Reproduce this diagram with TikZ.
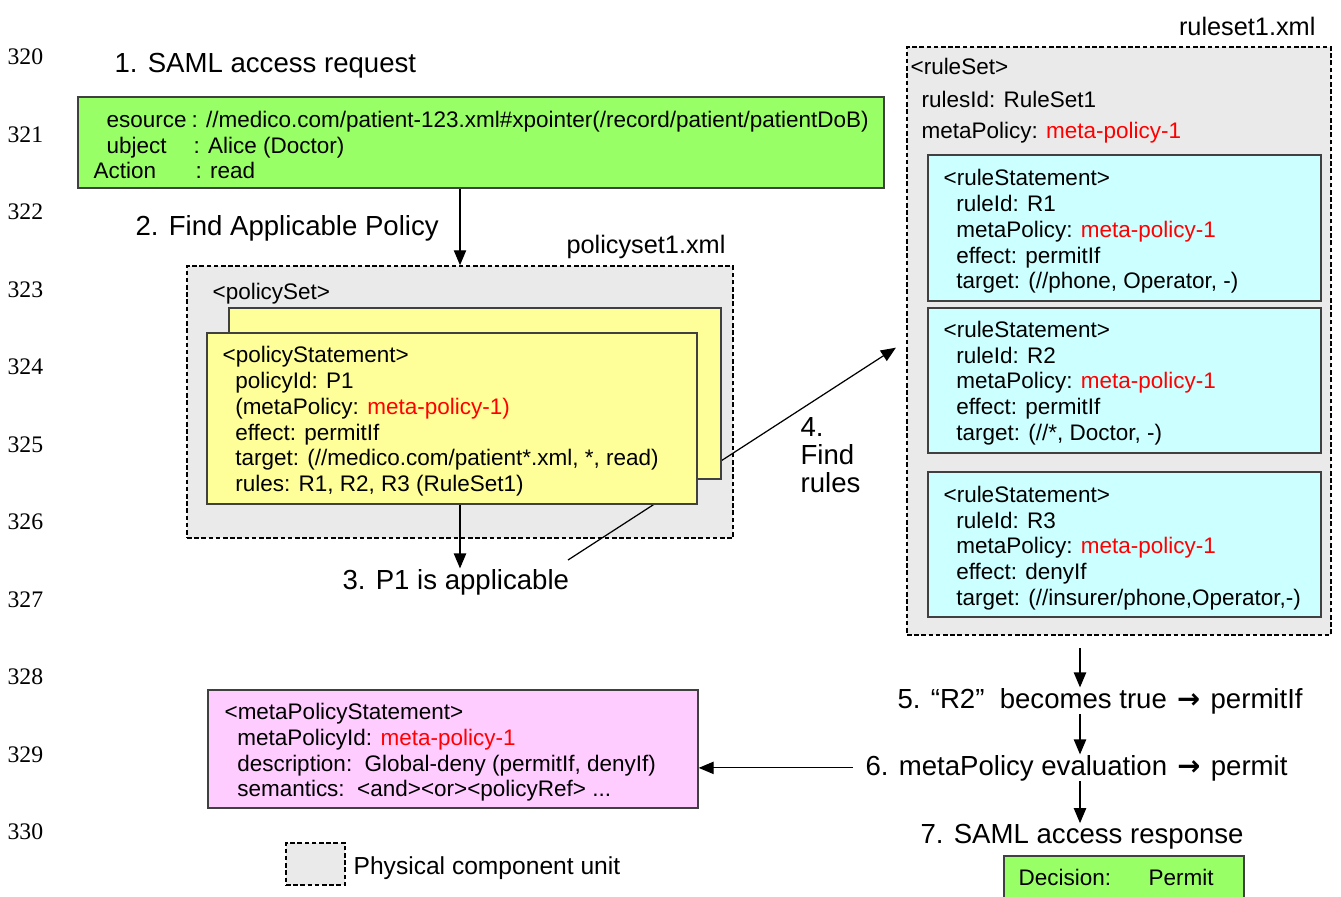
\documentclass[tikz,border=0pt]{standalone}
\usepackage{fontspec}
\setmainfont{Liberation Sans}
\newfontfamily\linenofont{Liberation Serif}
\newfontfamily\arrowfont{DejaVu Sans}
\usetikzlibrary{arrows.meta}

\definecolor{reqgreen}{HTML}{99FF66}
\definecolor{polyellow}{HTML}{FFFF99}
\definecolor{rulecyan}{HTML}{CCFFFF}
\definecolor{metapink}{HTML}{FFCCFF}
\definecolor{unitgray}{HTML}{EAEAEA}
\definecolor{edgegray}{HTML}{404040}
\definecolor{metared}{HTML}{FF0000}

\newcommand\pxl{0.02cm}
\newcommand\ind{\hspace*{7.2pt}}
\newcommand\metaref[1]{\textcolor{metared}{#1}}
\newcommand\yields{\hspace{1.5pt}{\arrowfont\bfseries →}\hspace{1.5pt}}

\tikzset{sized/.style 2 args={minimum width=#1*\pxl,minimum height=#2*\pxl}}

\begin{document}
\begin{tikzpicture}[x=0.02cm,y=-0.02cm,
  >={Triangle[length=8.5pt,width=7pt]},
  every path/.style={line width=0.7pt},
  colbox/.style={draw=edgegray,line width=0.8pt,inner sep=0pt},
  reqbox/.style={colbox,fill=reqgreen},
  polbox/.style={colbox,fill=polyellow},
  rulebox/.style={colbox,fill=rulecyan},
  metabox/.style={colbox,fill=metapink},
  unitbox/.style={draw=black,line width=0.9pt,dash pattern=on 2.6pt off 1.5pt,fill=unitgray,inner sep=0pt},
  steplabel/.style={font=\fontsize{15.7}{15.9}\selectfont,inner sep=0pt,anchor=base west},
  filelabel/.style={font=\fontsize{14.4}{15}\selectfont,inner sep=0pt,anchor=base east},
  txt/.style={font=\fontsize{12.8}{14.63}\selectfont,inner sep=0pt,align=left,anchor=base west},
  lineno/.style={font=\linenofont\fontsize{13.5}{14}\selectfont,inner sep=0pt,anchor=west}]
\path[use as bounding box,fill=white] (0,0) rectangle (1341,896);

% line numbers down the margin
\foreach \n [count=\k from 0] in {320,...,330}
  \node[lineno] (ln\n) at (7,57+77.5*\k) {\n};

% request (multi-line texts sit on their last baseline)
\node[steplabel] (step1) at (114,72) {1. SAML access request};
\node[reqbox,sized={806}{91}] (request) at (481,142.5) {};
\node[txt] (reqres) at (106,127) {esource};
\node[txt] (reqresval) at (191,127) {: //medico.com/patient-123.xml\#xpointer(/record/patient/patientDoB)};
\node[txt] (reqsub) at (106,153) {ubject};
\node[txt] (reqsubval) at (193,153) {: Alice (Doctor)};
\node[txt] (reqact) at (93,178) {Action};
\node[txt] (reqactval) at (195,178) {: read};
\node[steplabel] (step2) at (135,235) {2. Find Applicable Policy};

% rule set
\node[filelabel] (rulefile) at (1316,35) {ruleset1.xml};
\node[unitbox,sized={424}{588}] (ruleset) at (1119,341) {};
\node[txt] (ruleset-tag) at (910,74) {<ruleSet>};
\node[txt] (ruleset-id) at (921,107) {rulesId: RuleSet1};
\node[txt] (ruleset-meta) at (921,138) {metaPolicy: \metaref{meta-policy-1}};
\node[rulebox,sized={393}{146}] (rule1) at (1124.5,228) {};
\node[txt] (rule1-text) at (943,288.7) {<ruleStatement>\\\ind ruleId: R1\\\ind metaPolicy: \metaref{meta-policy-1}\\\ind effect: permitIf\\\ind target: (//phone, Operator, -)};
\node[rulebox,sized={393}{145}] (rule2) at (1124.5,380.5) {};
\node[txt] (rule2-text) at (943,440.2) {<ruleStatement>\\\ind ruleId: R2\\\ind metaPolicy: \metaref{meta-policy-1}\\\ind effect: permitIf\\\ind target: (//*, Doctor, -)};
\node[rulebox,sized={393}{145}] (rule3) at (1124.5,544.5) {};
\node[txt] (rule3-text) at (943,605.2) {<ruleStatement>\\\ind ruleId: R3\\\ind metaPolicy: \metaref{meta-policy-1}\\\ind effect: denyIf\\\ind target: (//insurer/phone,Operator,-)};

% policy set
\node[filelabel] (polfile) at (726,253) {policyset1.xml};
\node[unitbox,sized={546}{272}] (policyset) at (460,402) {};
\node[txt] (polset-tag) at (212,299) {<policySet>};
\draw[->] (policyset.north |- request.south) -- (policyset.north);

% 4. find rules, runs under the statements
\coordinate (findstart) at (568,560);
\draw[->,shorten >=7pt] (findstart) -- (ruleset.west);
\node[steplabel,align=left] (findrules) at (800,492) {4.\\Find\\rules};

\node[polbox,sized={492}{171}] (polback) at (475,393.5) {};
\node[polbox,sized={490}{171}] (polfront) at (452,418.5) {};
\node[txt] (pol-text) at (222,491.5) {<policyStatement>\\\ind policyId: P1\\\ind (metaPolicy: \metaref{meta-policy-1)}\\\ind effect: permitIf\\\ind target: (//medico.com/patient*.xml, *, read)\\\ind rules: R1, R2, R3 (RuleSet1)};

\node[steplabel] (applicable) at (342,589) {3. P1 is applicable};
\draw[->] (polfront.south -| policyset.north) -- (applicable.north -| policyset.north);

% evaluation steps
\coordinate (flowx) at (1080,0);
\node[steplabel] (step5) at (897,708) {5. “R2”\ \ becomes true \yields{} permitIf};
\node[steplabel] (step6) at (865,775) {6. metaPolicy evaluation \yields{} permit};
\node[steplabel] (step7) at (920,843) {7. SAML access response};
\draw[->,shorten <=7pt] (ruleset.south -| flowx) -- (step5.north -| flowx);
\draw[->] (step5.south -| flowx) -- (step6.north -| flowx);
\draw[->] (step6.south -| flowx) -- (step7.north -| flowx);

% meta policy
\node[metabox,sized={490}{118}] (meta) at (453,749) {};
\node[txt] (meta-text) at (224,796.9) {<metaPolicyStatement>\\\ind metaPolicyId: \metaref{meta-policy-1}\\\ind description:\ \ Global-deny (permitIf, denyIf)\\\ind semantics:\ \ <and><or><policyRef> ...};
\draw[->,shorten <=7pt] (step6.west) -- (step6.west -| meta.east);

% response
\node[reqbox,sized={240}{44}] (decision) at (1124,878) {};
\node[txt] (decision-key) at (1018,885) {Decision:};
\node[txt] (decision-val) at (1148,885) {Permit};

% legend
\node[unitbox,sized={59}{42}] (unitkey) at (315.5,864) {};
\node[txt,font=\fontsize{14}{16}\selectfont] (unitkey-text) at (353,874) {Physical component unit};
\end{tikzpicture}
\end{document}
